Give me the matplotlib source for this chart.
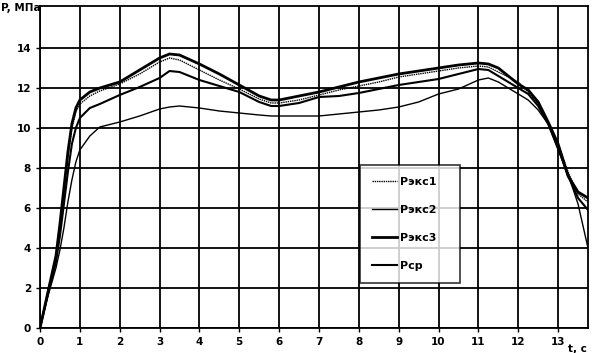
import matplotlib
matplotlib.use("Agg")
import matplotlib.pyplot as plt

# time, s
t = [0, 0.2, 0.4, 0.5, 0.6, 0.7, 0.8, 0.9, 1.0, 1.25, 1.5, 2.0, 2.5, 3.0, 3.25,
     3.5, 4.0, 4.5, 5.0, 5.5, 5.8, 6.0, 6.5, 7.0, 7.5, 8.0, 8.5, 9.0, 9.5, 10.0,
     10.5, 11.0, 11.25, 11.5, 12.0, 12.25, 12.5, 12.75, 13.0, 13.25, 13.5, 13.75]

# pressure, MPa
p_exp3 = [0, 1.8, 3.6, 5.2, 7.0, 8.8, 10.2, 11.0, 11.4, 11.8, 12.0, 12.3, 12.9, 13.5, 13.7,
          13.65, 13.2, 12.7, 12.15, 11.6, 11.4, 11.4, 11.6, 11.8, 12.05, 12.3, 12.5, 12.7, 12.85, 13.0,
          13.15, 13.25, 13.2, 13.0, 12.2, 11.9, 11.3, 10.3, 9.2, 7.6, 6.8, 6.5]
p_exp1 = [0, 1.9, 3.4, 5.0, 6.8, 8.5, 10.0, 10.8, 11.2, 11.6, 11.85, 12.2, 12.7, 13.3, 13.5,
          13.4, 12.9, 12.4, 11.95, 11.45, 11.25, 11.25, 11.4, 11.65, 11.9, 12.1, 12.3, 12.55, 12.7, 12.85,
          13.0, 13.1, 13.05, 12.8, 12.3, 11.8, 11.2, 10.3, 9.2, 7.8, 6.7, 6.3]
p_avg = [0, 1.7, 3.3, 4.6, 6.2, 7.8, 9.2, 10.0, 10.5, 11.0, 11.2, 11.65, 12.05, 12.5, 12.85,
         12.8, 12.4, 12.1, 11.8, 11.3, 11.1, 11.1, 11.25, 11.55, 11.6, 11.75, 11.95, 12.15, 12.3, 12.45,
         12.7, 12.95, 12.9, 12.6, 12.0, 11.7, 11.1, 10.2, 9.0, 7.6, 6.5, 5.9]
p_exp2 = [0, 1.6, 3.0, 3.9, 5.0, 6.3, 7.4, 8.3, 8.9, 9.6, 10.05, 10.3, 10.6, 10.95, 11.05,
          11.1, 11.0, 10.85, 10.75, 10.65, 10.6, 10.6, 10.6, 10.6, 10.7, 10.8, 10.9, 11.05, 11.3, 11.7,
          11.95, 12.4, 12.5, 12.3, 11.7, 11.4, 10.9, 10.2, 8.9, 7.7, 6.2, 4.0]

labels = ["Рэкс1", "Рэкс2", "Рэкс3", "Рср"]

# Set up figure
f = plt.figure(figsize=(5.94, 3.53), dpi=100)
ax = f.add_axes([40 / 594, 25 / 353, 548 / 594, 322 / 353])

ax.plot(t, p_exp1, color="k", lw=1.0, ls=(0, (1, 0.6)), label=labels[0])
ax.plot(t, p_exp2, color="k", lw=1.0, label=labels[1])
ax.plot(t, p_exp3, color="k", lw=2.0, label=labels[2])
ax.plot(t, p_avg, color="k", lw=1.5, label=labels[3])

ax.set_xlim(0, 13.75)
ax.set_ylim(0, 16.1)
ax.set_xticks(range(0, 14))
ax.set_yticks(range(0, 16, 2))
ax.grid(True, color="k", lw=1.3)
ax.tick_params(direction="out", length=3, width=1, labelsize=7.5, colors="k")
for lb in ax.get_xticklabels() + ax.get_yticklabels():
    lb.set_fontweight("bold")
for s in ax.spines.values():
    s.set_color("k")
    s.set_linewidth(1.3)

ax.text(-0.072, 0.995, "P, МПа", transform=ax.transAxes, fontsize=7.5,
        fontweight="bold", va="center", ha="left")
ax.text(13.72, -1.05, "t, с", fontsize=7.5, fontweight="bold", va="center", ha="right")

# legend box: 360..460 px wide, 165..278 px tall
leg = ax.legend(loc="upper left",
                bbox_to_anchor=(320 / 548, (328 - 278) / 322, 100 / 548, 113 / 322),
                mode="expand", frameon=True, fancybox=False, edgecolor="k",
                handlelength=2.2, labelspacing=1.6, borderpad=1.1, handletextpad=0.3,
                borderaxespad=0, prop={"weight": "bold", "size": 8})
leg.get_frame().set_linewidth(1.2)

plt.savefig("out.png", dpi=100)
plt.close(f)
